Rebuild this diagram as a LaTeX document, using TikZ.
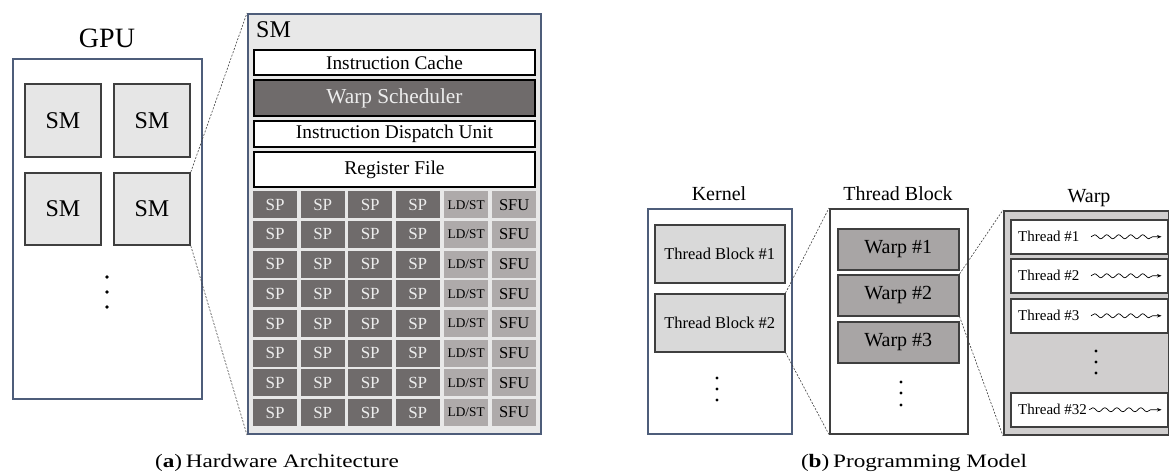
\documentclass[tikz,border=0pt]{standalone}
\usepackage{graphicx}
\usepackage{fontspec}
\IfFontExistsTF{LiberationSerif-Regular.ttf}
  {\setmainfont{LiberationSerif}[Extension=.ttf, UprightFont=*-Regular, BoldFont=*-Bold, ItalicFont=*-Italic, BoldItalicFont=*-BoldItalic]}
  {\setmainfont{Liberation Serif}}
\usetikzlibrary{arrows.meta,decorations.pathmorphing}

\definecolor{frameblue}{HTML}{4E5D7A}
\definecolor{edgegray}{HTML}{3F3F3F}
\definecolor{smfill}{HTML}{E6E6E6}
\definecolor{panelfill}{HTML}{E8E8E8}
\definecolor{spfill}{HTML}{6F6B6B}
\definecolor{ldfill}{HTML}{AEAAAA}
\definecolor{tbfill}{HTML}{D9D9D9}
\definecolor{warpfill}{HTML}{A8A5A5}
\definecolor{warppanel}{HTML}{D0CECE}
\definecolor{lighttext}{HTML}{EDEDED}

\newcommand{\fsz}[1]{\fontsize{#1}{#1}\selectfont}

\begin{document}
\begin{tikzpicture}[x=1pt,y=-1pt,
  blk/.style={rectangle, inner sep=0pt, anchor=north west},
  outerframe/.style={blk, draw=frameblue, line width=1.6pt, fill=white},
  smbox/.style={blk, draw=edgegray, line width=1.8pt, fill=smfill, font=\fsz{24}},
  smpanel/.style={blk, draw=frameblue, line width=2pt, fill=panelfill},
  unitbox/.style={blk, draw=black, line width=2pt, fill=white, minimum width=281pt},
  spcell/.style={blk, fill=spfill, text=lighttext, font=\fsz{17}, minimum width=44pt, minimum height=27pt},
  lscell/.style={blk, fill=ldfill, text=black, minimum width=44pt, minimum height=27pt},
  tbbox/.style={blk, draw=edgegray, line width=1.5pt, fill=tbfill, font=\fsz{16.5}, minimum width=130pt, minimum height=58pt},
  warpbox/.style={blk, draw=edgegray, line width=1.5pt, fill=warpfill, font=\fsz{20}, minimum width=121pt, minimum height=41pt},
  threadbox/.style={blk, draw=edgegray, line width=1.5pt, fill=white, minimum width=157pt, minimum height=34pt},
  threadlabel/.style={anchor=west, inner sep=0pt, font=\fsz{15}},
  heading/.style={anchor=base, inner sep=0pt, font=\fsz{20}},
  zoomline/.style={draw=black!75, line width=0.6pt, dash pattern=on 2pt off 1.5pt},
  dotmark/.style={fill=black},
  wavy/.style={line width=0.7pt, decorate,
    decoration={snake, amplitude=2pt, segment length=12pt, post length=5pt},
    -{Stealth[length=4.5pt,width=3.5pt]}},
  caption/.style={anchor=base, inner sep=0pt, font=\fsz{19}}
]
\useasboundingbox (0,0) rectangle (1169,475);

% ---------------- (a) hardware architecture ----------------
\node[heading, font=\fsz{28}] (gpulabel) at (107,47) {GPU};
\node[outerframe, minimum width=189pt, minimum height=340pt] (gpu) at (12,58) {};
\node[smbox, minimum width=76pt, minimum height=73pt] (sm1) at (24,83) {SM};
\node[smbox, minimum width=76pt, minimum height=73pt] (sm2) at (113,83) {SM};
\node[smbox, minimum width=76pt, minimum height=72pt] (sm3) at (24,172) {SM};
\node[smbox, minimum width=76pt, minimum height=72pt] (sm4) at (113,172) {SM};
\foreach \yy in {277,292,307} \fill[dotmark] (107,\yy) circle (1.9pt);

\node[smpanel, minimum width=293pt, minimum height=420pt] (smpanel) at (247,13) {};
\node[anchor=base west, inner sep=0pt, font=\fsz{24}] (smtitle) at (256,37) {SM};

\node[unitbox, minimum height=25pt, font=\fsz{19.3}] (icache) at (253,49) {Instruction Cache};
\node[unitbox, minimum height=36pt, fill=spfill, text=lighttext, font=\fsz{21.3}] (wsched) at (253,79) {Warp Scheduler};
\node[unitbox, minimum height=26pt, font=\fsz{19.4}] (dispatch) at (253,120) {Instruction Dispatch Unit};
\node[unitbox, minimum height=35pt, font=\fsz{19.5}] (regfile) at (253,151) {Register File};

\foreach \r in {0,...,7} {
  \pgfmathsetmacro{\yy}{191+29.7*\r}
  \node[spcell] (sp-\r-1) at (253,\yy) {SP};
  \node[spcell] (sp-\r-2) at (300.5,\yy) {SP};
  \node[spcell] (sp-\r-3) at (348,\yy) {SP};
  \node[spcell] (sp-\r-4) at (395.5,\yy) {SP};
  \node[lscell, font=\fsz{13.3}] (ldst-\r) at (444,\yy) {LD/ST};
  \node[lscell, font=\fsz{16.5}] (sfu-\r) at (492,\yy) {SFU};
}

\draw[zoomline] (sm4.north east) -- (smpanel.north west);
\draw[zoomline] (sm4.south east) -- (smpanel.south west);

\node[caption] (capa) at (277,467) {\scalebox{1.22}[1]{(\textbf{a})\,Hardware Architecture}};

% ---------------- (b) programming model ----------------
\node[heading] (kernellabel) at (719,200) {Kernel};
\node[outerframe, line width=1.5pt, minimum width=144pt, minimum height=225pt] (kernel) at (647,208) {};
\node[tbbox] (tb1) at (654,224) {Thread Block \#1};
\node[tbbox] (tb2) at (654,293) {Thread Block \#2};
\foreach \yy in {378,389,400} \fill[dotmark] (717,\yy) circle (1.7pt);

\node[heading] (tblabel) at (898,200) {Thread Block};
\node[blk, draw=edgegray, line width=1.5pt, fill=white, minimum width=138pt, minimum height=225pt] (block) at (829,208) {};
\node[warpbox] (w1) at (837,228) {Warp \#1};
\node[warpbox] (w2) at (837,274) {Warp \#2};
\node[warpbox] (w3) at (837,321) {Warp \#3};
\foreach \yy in {382,393,405} \fill[dotmark] (901,\yy) circle (1.7pt);

\draw[zoomline] (tb2.north east) -- (block.north west);
\draw[zoomline] (tb2.south east) -- (block.south west);

\node[heading] (warplabel) at (1089,202) {Warp};
\node[blk, draw=edgegray, line width=2pt, fill=warppanel, minimum width=165pt, minimum height=224pt] (warp) at (1003,210) {};
\node[threadbox] (t1) at (1010,219) {};
\node[threadbox] (t2) at (1010,258) {};
\node[threadbox] (t3) at (1010,298) {};
\node[threadbox] (t32) at (1010,392) {};
\node[threadlabel] (t1l) at ([xshift=8pt]t1.west) {Thread \#1};
\node[threadlabel] (t2l) at ([xshift=8pt]t2.west) {Thread \#2};
\node[threadlabel] (t3l) at ([xshift=8pt]t3.west) {Thread \#3};
\node[threadlabel] (t32l) at ([xshift=8pt]t32.west) {Thread \#32};
\foreach \yy in {351,362,373} \fill[dotmark] (1096,\yy) circle (1.7pt);

\coordinate (a1s) at ([xshift=81pt]t1.west);  \coordinate (a1e) at ([xshift=-7pt]t1.east);
\coordinate (a2s) at ([xshift=81pt]t2.west);  \coordinate (a2e) at ([xshift=-7pt]t2.east);
\coordinate (a3s) at ([xshift=81pt]t3.west);  \coordinate (a3e) at ([xshift=-7pt]t3.east);
\coordinate (a32s) at ([xshift=2pt]t32l.east); \coordinate (a32e) at ([xshift=-7pt]t32.east);
\draw[wavy] (a1s) -- (a1e);
\draw[wavy] (a2s) -- (a2e);
\draw[wavy] (a3s) -- (a3e);
\draw[wavy] (a32s) -- (a32e);

\draw[zoomline] (w2.north east) -- (warp.north west);
\draw[zoomline] (w2.south east) -- (warp.south west);

\node[caption] (capb) at (914,467) {\scalebox{1.22}[1]{(\textbf{b})\,Programming Model}};
\end{tikzpicture}
\end{document}
